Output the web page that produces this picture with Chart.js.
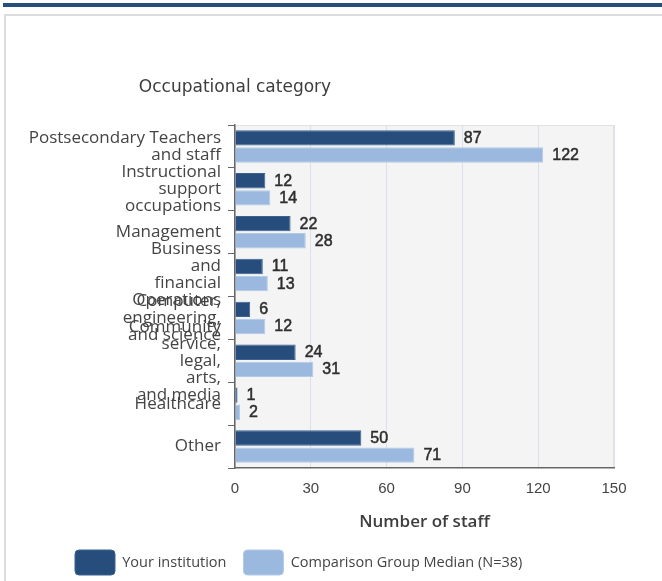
<!DOCTYPE html>
<html>
<head>
<meta charset="utf-8">
<script src="https://cdn.jsdelivr.net/npm/chart.js@4.4.1/dist/chart.umd.min.js"></script>
<style>
  html, body { margin: 0; padding: 0; width: 662px; height: 581px; overflow: hidden; background: #fff; }
  .topbar { position: absolute; left: 3px; top: 3px; width: 659px; height: 4px; background: #26507c; }
  .panel { position: absolute; left: 4px; top: 14px; width: 720px; height: 720px; border: 2px solid #dcdcdc; box-sizing: border-box; }
  #chart { position: absolute; left: 0; top: 0; }
</style>
</head>
<body>
<div class="topbar"></div>
<div class="panel"></div>
<canvas id="chart" width="662" height="585"></canvas>
<script>
// ================================
// DATA
// ================================
const categories = [
  ["Postsecondary Teachers", "and staff"],
  ["Instructional", "support", "occupations"],
  "Management",
  ["Business", "and", "financial", "Operations"],
  ["Computer,", "engineering,", "and science"],
  ["Community", "service,", "legal,", "arts,", "and media"],
  "Healthcare",
  "Other"
];
const yourInstitution = [87, 12, 22, 11, 6, 24, 1, 50];
const comparisonMedian = [122, 14, 28, 13, 12, 31, 2, 71];
const xTickStep = 30;
const xMax = 150;
const seriesNames = ["Your institution", "Comparison Group Median (N=38)"];

const darkBlue = "#264d7b";
const lightBlue = "#9bb9de";
const textGrey = "#444";

// ================================
// PLUGINS
// ================================
const plotBackground = {
  id: "plotBackground",
  beforeDraw(chart) {
    const { ctx, chartArea: a } = chart;
    ctx.save();
    ctx.fillStyle = "#f4f4f4";
    ctx.fillRect(a.left, a.top, a.right - a.left, a.bottom - a.top);
    ctx.strokeStyle = "#e2e2e2";
    ctx.lineWidth = 1;
    ctx.strokeRect(a.left + 0.5, a.top + 0.5, a.right - a.left - 1, a.bottom - a.top - 1);
    ctx.restore();
  }
};

const valueLabels = {
  id: "valueLabels",
  afterDatasetsDraw(chart) {
    const { ctx } = chart;
    ctx.save();
    ctx.font = "16px 'Liberation Sans'";
    ctx.fillStyle = "#2e2e2e";
    ctx.strokeStyle = "#2e2e2e";
    ctx.lineWidth = 0.5;
    ctx.textAlign = "left";
    ctx.textBaseline = "middle";
    chart.data.datasets.forEach((ds, i) => {
      chart.getDatasetMeta(i).data.forEach((bar, j) => {
        const txt = String(ds.data[j]);
        ctx.fillText(txt, bar.x + 9, bar.y + 0.5);
        ctx.strokeText(txt, bar.x + 9, bar.y + 0.5);
      });
    });
    ctx.restore();
  }
};

const axisHeading = {
  id: "axisHeading",
  afterDraw(chart) {
    const { ctx, chartArea } = chart;
    ctx.save();
    ctx.font = "17px 'DejaVu Sans'";
    ctx.fillStyle = "#3d3d3d";
    ctx.textAlign = "center";
    ctx.textBaseline = "middle";
    ctx.fillText("Occupational category", chartArea.left, 88);
    ctx.restore();
  }
};

// legend starts further right than the y axis box
const legendShift = {
  id: "legendShift",
  afterLayout(chart) {
    chart.legend.left += 58;
  }
};

// ================================
// CHART
// ================================
new Chart(document.getElementById("chart"), {
  type: "bar",
  data: {
    labels: categories,
    datasets: [
      {
        label: seriesNames[0],
        data: yourInstitution,
        backgroundColor: darkBlue,
        borderColor: "#3a6291",
        borderWidth: 1,
        categoryPercentage: 0.8,
        barPercentage: 0.9
      },
      {
        label: seriesNames[1],
        data: comparisonMedian,
        backgroundColor: lightBlue,
        borderColor: "#b3cae7",
        borderWidth: 1,
        categoryPercentage: 0.8,
        barPercentage: 0.9
      }
    ]
  },
  options: {
    indexAxis: "y",
    responsive: false,
    animation: false,
    layout: { padding: { left: 0, right: 48, top: 125, bottom: 0 } },
    scales: {
      x: {
        min: 0,
        max: xMax,
        afterFit: (s) => { s.height = 65; },
        grid: { color: "#d9e1ef", drawTicks: false },
        border: { color: "#666", width: 1.5 },
        ticks: {
          stepSize: xTickStep,
          color: textGrey,
          padding: 12,
          font: { family: "Liberation Sans", size: 15 }
        },
        title: {
          display: true,
          text: "Number of staff",
          color: "#3d3d3d",
          font: { family: "Open Sans", size: 17, weight: "600" },
          padding: { top: 0, bottom: 1 }
        }
      },
      y: {
        afterFit: (s) => { s.width = 235; },
        grid: { drawOnChartArea: false, tickLength: 7, color: "#666", offset: true },
        border: { color: "#666", width: 1.5 },
        ticks: {
          color: textGrey,
          padding: 7,
          autoSkip: false,
          font: { family: "Open Sans", size: 17, lineHeight: "17px" }
        }
      }
    },
    plugins: {
      legend: {
        position: "bottom",
        align: "start",
        labels: {
          boxWidth: 40,
          boxHeight: 25,
          padding: 17,
          color: textGrey,
          useBorderRadius: true,
          borderRadius: 4,
          font: { family: "Open Sans", size: 14.5 }
        }
      },
      tooltip: { enabled: false }
    }
  },
  plugins: [plotBackground, valueLabels, axisHeading, legendShift]
});
</script>
</body>
</html>
